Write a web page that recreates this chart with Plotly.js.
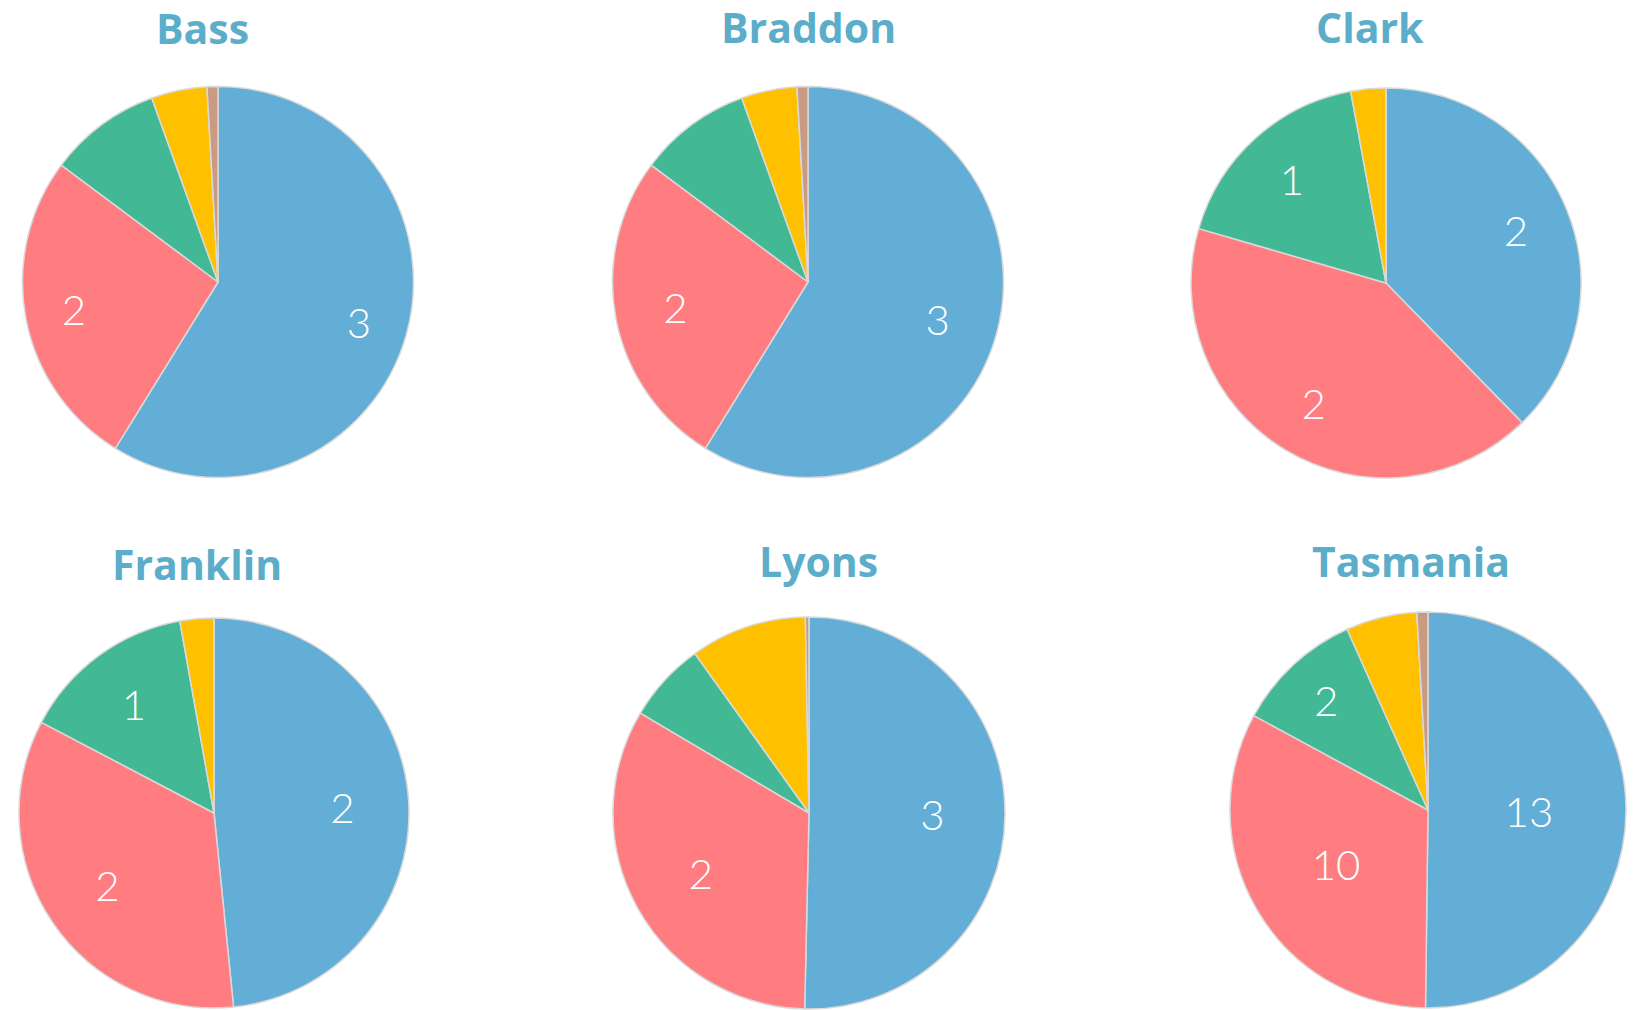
<!DOCTYPE html>
<html>
<head>
<meta charset="utf-8">
<script src="https://cdn.plot.ly/plotly-3.0.1.min.js"></script>
<style>
html,body{margin:0;padding:0;background:#fff;}
#chart{width:1644px;height:1010px;}
</style>
</head>
<body>
<div id="chart"></div>
<script>
// ---- data ----
const parties = ['Liberal', 'Labor', 'Greens', 'Jacqui Lambie Network', 'Other'];
const partyColors = ['#62AED6', '#FF7C80', '#43B894', '#FFC000', '#C99B84'];
const divisions = ['Bass', 'Braddon', 'Clark', 'Franklin', 'Lyons', 'Tasmania'];

// vote share (%) per party
const bassVotes     = [58.8, 26.4, 9.3, 4.6, 0.9];
const braddonVotes  = [58.8, 26.4, 9.3, 4.6, 0.9];
const clarkVotes    = [37.7, 41.8, 17.6, 2.9, 0];
const franklinVotes = [48.4, 34.3, 14.5, 2.8, 0];
const lyonsVotes    = [50.4, 33.2, 6.6, 9.6, 0.3];
const tasmaniaVotes = [50.2, 32.7, 10.4, 5.8, 0.9];

// seats won per party (shown as slice labels)
const bassSeats     = [3, 2, 0, 0, 0];
const braddonSeats  = [3, 2, 0, 0, 0];
const clarkSeats    = [2, 2, 1, 0, 0];
const franklinSeats = [2, 2, 1, 0, 0];
const lyonsSeats    = [3, 2, 0, 0, 0];
const tasmaniaSeats = [13, 10, 2, 0, 0];

const votes = [bassVotes, braddonVotes, clarkVotes, franklinVotes, lyonsVotes, tasmaniaVotes];
const seats = [bassSeats, braddonSeats, clarkSeats, franklinSeats, lyonsSeats, tasmaniaSeats];

// ---- layout geometry (pixels) ----
const W = 1644, H = 1010;
const pieCenters = [[218, 282], [808, 282], [1386, 283], [214, 813], [809, 813], [1428, 810]];
const pieRadius  = [195.5, 195.5, 195, 195, 196, 198];
// radial placement of the seat labels (via a transparent label ring)
const labelHole  = [0.5, 0.38, 0.44, 0.32, 0.26, 0.02];
const titlePos   = [[202, 28], [808, 27], [1370, 27], [197, 564], [818, 561], [1411, 561]];

function domainFor(i) {
  const [cx, cy] = pieCenters[i];
  const r = pieRadius[i];
  return {
    x: [(cx - r) / W, (cx + r) / W],
    y: [1 - (cy + r) / H, 1 - (cy - r) / H]
  };
}

const traces = [];
divisions.forEach((name, i) => {
  // coloured pie
  traces.push({
    type: 'pie',
    name: name,
    labels: parties,
    values: votes[i],
    textinfo: 'none',
    sort: false,
    direction: 'clockwise',
    rotation: 0,
    marker: {colors: partyColors, line: {color: '#D9D9D9', width: 1.5}},
    hoverinfo: 'none',
    showlegend: false,
    domain: domainFor(i)
  });
  // label ring: same slices, transparent, carries the seat counts
  traces.push({
    type: 'pie',
    name: name + ' seats',
    labels: parties,
    values: votes[i],
    hole: labelHole[i],
    text: seats[i].map(s => s > 0 ? String(s) : ''),
    textinfo: 'text',
    textposition: 'inside',
    insidetextorientation: 'horizontal',
    textfont: {family: 'Lato, "Open Sans", sans-serif', size: 42, color: '#FFFFFF', weight: 300},
    sort: false,
    direction: 'clockwise',
    rotation: 0,
    marker: {colors: parties.map(() => 'rgba(0,0,0,0)'), line: {width: 0}},
    hoverinfo: 'none',
    showlegend: false,
    domain: domainFor(i)
  });
});

const annotations = divisions.map((name, i) => ({
  text: '<b>' + name + '</b>',
  x: titlePos[i][0] / W,
  y: 1 - titlePos[i][1] / H,
  xref: 'paper', yref: 'paper',
  xanchor: 'center', yanchor: 'middle',
  borderpad: 0,
  showarrow: false,
  font: {family: '"Open Sans", Lato, sans-serif', size: 41, color: '#5BADC9'}
}));

const layout = {
  width: W, height: H,
  margin: {l: 0, r: 0, t: 0, b: 0},
  paper_bgcolor: '#FFFFFF',
  showlegend: false,
  annotations: annotations
};

Plotly.newPlot('chart', traces, layout, {displayModeBar: false, staticPlot: true});
</script>
</body>
</html>
